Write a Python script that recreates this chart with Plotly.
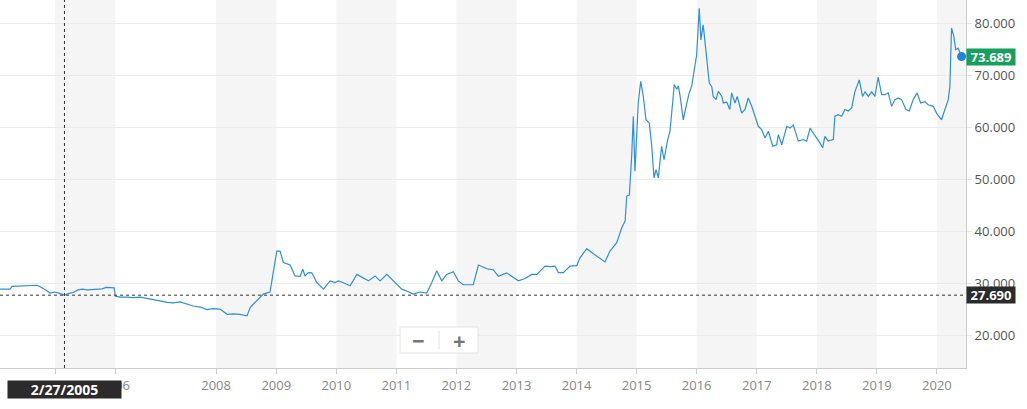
import plotly.graph_objects as go

DATES = [
    "2004-02-01", "2004-04-02", "2004-04-14", "2004-06-02", "2004-08-01", "2004-09-12",
    "2004-10-01", "2004-11-01", "2004-12-01", "2005-01-01", "2005-02-01", "2005-02-27",
    "2005-03-21", "2005-04-20", "2005-05-21", "2005-06-14", "2005-07-15", "2005-08-14",
    "2005-09-13", "2005-10-14", "2005-11-07", "2005-12-02", "2005-12-26",
    "2006-04-28", "2006-05-27", "2006-07-09", "2006-08-15", "2006-09-26", "2006-11-08",
    "2006-12-14", "2007-01-25", "2007-03-09", "2007-04-14", "2007-05-27", "2007-07-08",
    "2007-08-14", "2007-09-26", "2007-11-07", "2007-12-14", "2008-01-25", "2008-03-08",
    "2008-04-13", "2008-05-26", "2008-07-07", "2008-07-26", "2008-08-13", "2008-09-06",
    "2008-10-13", "2008-11-24", "2008-12-14", "2009-01-04", "2009-01-24", "2009-02-13",
    "2009-03-26", "2009-04-25", "2009-05-26", "2009-06-11", "2009-06-25", "2009-07-15",
    "2009-08-05", "2009-09-05", "2009-10-15", "2009-11-24", "2009-12-25", "2010-01-14",
    "2010-02-13", "2010-03-26", "2010-05-06", "2010-06-05", "2010-07-15", "2010-08-25",
    "2010-09-24", "2010-11-04", "2010-12-14", "2011-02-03", "2011-03-05", "2011-04-14",
    "2011-05-25", "2011-07-05", "2011-08-04", "2011-09-04", "2011-10-04", "2011-11-03",
    "2011-12-14", "2012-01-13", "2012-02-12", "2012-04-13", "2012-05-14", "2012-06-13",
    "2012-07-13", "2012-08-12", "2012-09-12", "2012-11-02", "2012-12-13", "2013-01-12",
    "2013-02-22", "2013-04-04", "2013-05-04", "2013-05-24", "2013-06-23", "2013-07-24",
    "2013-08-23", "2013-09-12", "2013-10-13", "2013-11-22", "2014-01-02", "2014-01-22",
    "2014-03-04", "2014-04-03", "2014-05-23", "2014-06-23", "2014-07-23", "2014-09-02",
    "2014-10-03", "2014-10-23", "2014-11-02", "2014-11-18", "2014-12-02", "2014-12-12",
    "2014-12-22", "2015-01-11", "2015-01-26", "2015-02-11", "2015-02-27", "2015-03-19",
    "2015-04-03", "2015-04-17", "2015-04-29", "2015-05-13", "2015-06-02", "2015-06-17",
    "2015-07-07", "2015-07-23", "2015-08-08", "2015-08-18", "2015-09-02", "2015-09-12",
    "2015-09-22", "2015-10-12", "2015-10-31", "2015-11-17", "2015-12-02", "2015-12-16",
    "2016-01-01", "2016-01-17", "2016-01-27", "2016-02-10", "2016-02-27", "2016-03-18",
    "2016-04-02", "2016-04-11", "2016-04-28", "2016-05-12", "2016-06-02", "2016-06-11",
    "2016-07-02", "2016-07-21", "2016-08-01", "2016-08-21", "2016-09-04", "2016-10-01",
    "2016-10-21", "2016-11-10", "2016-12-01", "2016-12-21", "2017-01-10", "2017-01-31",
    "2017-02-20", "2017-03-12", "2017-04-08", "2017-05-02", "2017-05-12", "2017-06-02",
    "2017-07-02", "2017-07-22", "2017-08-11", "2017-09-10", "2017-10-11", "2017-10-31",
    "2017-11-21", "2017-12-11", "2017-12-31", "2018-01-20", "2018-02-05", "2018-02-19",
    "2018-03-11", "2018-04-11", "2018-04-21", "2018-05-11", "2018-06-01", "2018-06-21",
    "2018-07-11", "2018-08-01", "2018-08-21", "2018-09-16", "2018-10-06", "2018-10-21",
    "2018-11-10", "2018-11-30", "2018-12-20", "2019-01-09", "2019-01-30", "2019-02-19",
    "2019-03-11", "2019-04-01", "2019-04-21", "2019-05-11", "2019-05-31", "2019-06-27",
    "2019-07-17", "2019-08-10", "2019-09-03", "2019-09-24", "2019-10-20", "2019-11-09",
    "2019-12-10", "2019-12-30", "2020-01-29", "2020-02-18", "2020-03-10", "2020-03-20",
    "2020-03-30", "2020-04-13", "2020-04-25", "2020-05-09", "2020-05-30",
]

VALUES = [
    28.85, 28.85, 29.4, 29.5, 29.5, 29.6,
    29.3, 28.8, 28.1, 28.3, 28.0, 27.69,
    28.0, 28.2, 28.7, 28.85, 28.7, 28.8,
    28.9, 28.9, 29.2, 29.1, 29.1,
    27.5, 27.3, 27.3, 27.2, 27.3, 27.1,
    26.8, 26.6, 26.3, 26.2, 26.4, 26.0,
    25.6, 25.4, 24.9, 25.1, 25.0, 24.0,
    24.1, 24.0, 23.7, 25.3, 25.9, 26.6,
    27.9, 28.3, 32.05, 36.2, 36.2, 34.0,
    33.5, 31.4, 31.3, 32.7, 31.4, 32.05,
    32.0, 30.1, 28.85, 30.45, 30.1, 30.45,
    30.1, 29.5, 31.7, 31.1, 30.45, 31.4,
    30.45, 31.7, 30.45, 28.85, 28.5, 27.9,
    28.3, 28.1, 30.1, 32.4, 30.45, 31.7,
    32.2, 30.45, 29.7, 29.7, 33.5, 33.1,
    32.7, 32.6, 31.35, 32.0, 31.1, 30.45,
    30.9, 31.7, 31.7, 32.4, 33.3, 33.2,
    33.3, 32.05, 32.05, 33.3, 33.4, 34.9,
    36.65, 35.9, 34.75, 34.1, 36.2, 37.8,
    40.7, 42.0, 46.8, 47.0, 54.5, 62.2,
    51.6, 64.75, 68.9, 66.0, 61.5, 60.9,
    56.4, 50.3, 51.9, 50.3, 56.4, 53.8,
    57.4, 59.3, 64.75, 68.3, 67.4, 68.0,
    66.2, 61.5, 64.4, 66.7, 68.0, 71.0,
    74.0, 83.0, 76.9, 79.8, 75.0, 68.6,
    67.9, 66.0, 65.4, 67.0, 66.0, 64.75,
    64.9, 63.5, 66.7, 64.75, 66.0, 62.8,
    63.5, 65.7, 64.1, 62.2, 60.25, 59.6,
    58.0, 59.3, 56.4, 56.7, 58.65, 56.7,
    60.25, 59.9, 60.5, 57.4, 57.7, 57.4,
    59.9, 58.9, 58.0, 57.05, 56.1, 58.3,
    57.4, 57.7, 62.2, 62.5, 62.2, 63.5,
    63.2, 63.8, 67.0, 69.2, 66.0, 66.9,
    66.0, 66.9, 66.0, 69.75, 66.35, 66.35,
    66.7, 64.1, 65.4, 65.7, 65.4, 63.5,
    63.2, 65.4, 66.7, 64.75, 65.0, 64.4,
    64.1, 62.8, 61.5, 63.5, 65.4, 67.9,
    79.2, 77.6, 75.0, 75.3, 73.689,
]

YEAR_TICK_DATES = ["2005-01-01", "2006-04-27", "2008-01-01", "2009-01-01", "2010-01-01",
                   "2011-01-01", "2012-01-01", "2013-01-01", "2014-01-01", "2015-01-01",
                   "2016-01-01", "2017-01-01", "2018-01-01", "2019-01-01", "2020-01-01"]
YEAR_TICK_LABELS = ["2005", "2006", "2008", "2009", "2010", "2011", "2012", "2013",
                    "2014", "2015", "2016", "2017", "2018", "2019", "2020"]
Y_TICKS = [20, 30, 40, 50, 60, 70, 80]

CROSSHAIR_DATE = "2005-02-27"
CROSSHAIR_LABEL = "2/27/2005"
CROSSHAIR_VALUE = 27.690

X_RANGE = ["2004-02-01", "2020-06-26"]
DATA_GAP = ["2006-01-01", "2006-04-27"]

FONT = "Open Sans, Segoe UI, Arial, sans-serif"
LINE_BLUE = "#2f8fdc"
DARK = "#2b2b2b"
GREEN = "#17a05d"

fig = go.Figure()
fig.add_trace(go.Scatter(
    x=DATES, y=VALUES, mode="lines",
    line=dict(color=LINE_BLUE, width=1.2),
    hoverinfo="skip", showlegend=False,
))
fig.add_trace(go.Scatter(
    x=[DATES[-1]], y=[VALUES[-1]], mode="markers",
    marker=dict(color="#1f86e0", size=9),
    hoverinfo="skip", showlegend=False,
))

# alternating shaded bands between labelled ticks
band_edges = YEAR_TICK_DATES + [X_RANGE[1]]
for i in range(0, len(band_edges) - 1, 2):
    fig.add_shape(type="rect", xref="x", yref="paper",
                  x0=band_edges[i], x1=band_edges[i + 1], y0=0, y1=1,
                  fillcolor="#f5f5f5", line_width=0, layer="below")

# crosshair
fig.add_shape(type="line", xref="x", yref="paper", x0=CROSSHAIR_DATE, x1=CROSSHAIR_DATE,
              y0=0, y1=1, line=dict(color="#333333", width=1, dash="3px,3px"))
fig.add_shape(type="line", xref="paper", yref="y", x0=0, x1=1,
              y0=CROSSHAIR_VALUE, y1=CROSSHAIR_VALUE,
              line=dict(color="#333333", width=1, dash="3px,3px"))

# zoom buttons
fig.add_shape(type="rect", xref="paper", yref="paper", x0=0.4141, x1=0.4948,
              y0=0.0408, y1=0.1114, fillcolor="white",
              line=dict(color="#e3e3e3", width=1), layer="above")
fig.add_shape(type="line", xref="paper", yref="paper", x0=0.4545, x1=0.4545,
              y0=0.0516, y1=0.1005, line=dict(color="#e3e3e3", width=1), layer="above")
fig.add_annotation(xref="paper", yref="paper", x=0.4337, y=0.0761, text="<b>−</b>",
                   xanchor="center", yanchor="middle",
                   showarrow=False, font=dict(size=22, color="#777777", family=FONT))
fig.add_annotation(xref="paper", yref="paper", x=0.4752, y=0.0761, text="<b>+</b>",
                   xanchor="center", yanchor="middle",
                   showarrow=False, font=dict(size=22, color="#777777", family=FONT))

# labels
fig.add_annotation(xref="x", yref="paper", x=CROSSHAIR_DATE, y=0, yanchor="top", yshift=-12,
                   text="<b>%s</b>" % CROSSHAIR_LABEL, showarrow=False,
                   bgcolor=DARK, width=111, height=15, borderpad=1,
                   font=dict(size=14, color="white", family=FONT))
fig.add_annotation(xref="paper", yref="y", x=1, xanchor="left", y=CROSSHAIR_VALUE,
                   yanchor="middle",
                   text="<b>%.3f</b>" % CROSSHAIR_VALUE, showarrow=False,
                   bgcolor=DARK, width=46, height=14, borderpad=1,
                   font=dict(size=13, color="white", family=FONT))
fig.add_annotation(xref="paper", yref="y", x=1, xanchor="left", y=VALUES[-1],
                   yanchor="middle",
                   text="<b>%.3f</b>" % VALUES[-1], showarrow=False,
                   bgcolor=GREEN, width=46, height=14, borderpad=1,
                   font=dict(size=13, color="white", family=FONT))

fig.update_layout(
    width=1027, height=409,
    margin=dict(l=0, r=61, t=0, b=41),
    paper_bgcolor="white", plot_bgcolor="white",
    font=dict(family=FONT),
    showlegend=False,
    hovermode=False,
    xaxis=dict(
        type="date", range=X_RANGE,
        rangebreaks=[dict(bounds=DATA_GAP)],
        tickvals=YEAR_TICK_DATES, ticktext=YEAR_TICK_LABELS,
        showgrid=False, zeroline=False,
        showline=True, linecolor="#cccccc", linewidth=1,
        ticks="outside", ticklen=5, tickcolor="#cccccc",
        tickfont=dict(size=13, color="#888888", family=FONT),
        fixedrange=True,
    ),
    yaxis=dict(
        side="right", range=[13.65, 84.6],
        tickvals=Y_TICKS, tickformat=".3f",
        showgrid=True, gridcolor="#ebebeb", gridwidth=1, zeroline=False,
        showline=True, linecolor="#cccccc", linewidth=1,
        ticks="outside", ticklen=5, tickcolor="#e6e6e6",
        tickfont=dict(size=13, color="#555555", family=FONT),
        fixedrange=True,
    ),
)

fig.write_html(
    "out.html",
    config={"displayModeBar": False},
    post_script="document.body.style.margin='0';document.body.style.padding='0';",
)
